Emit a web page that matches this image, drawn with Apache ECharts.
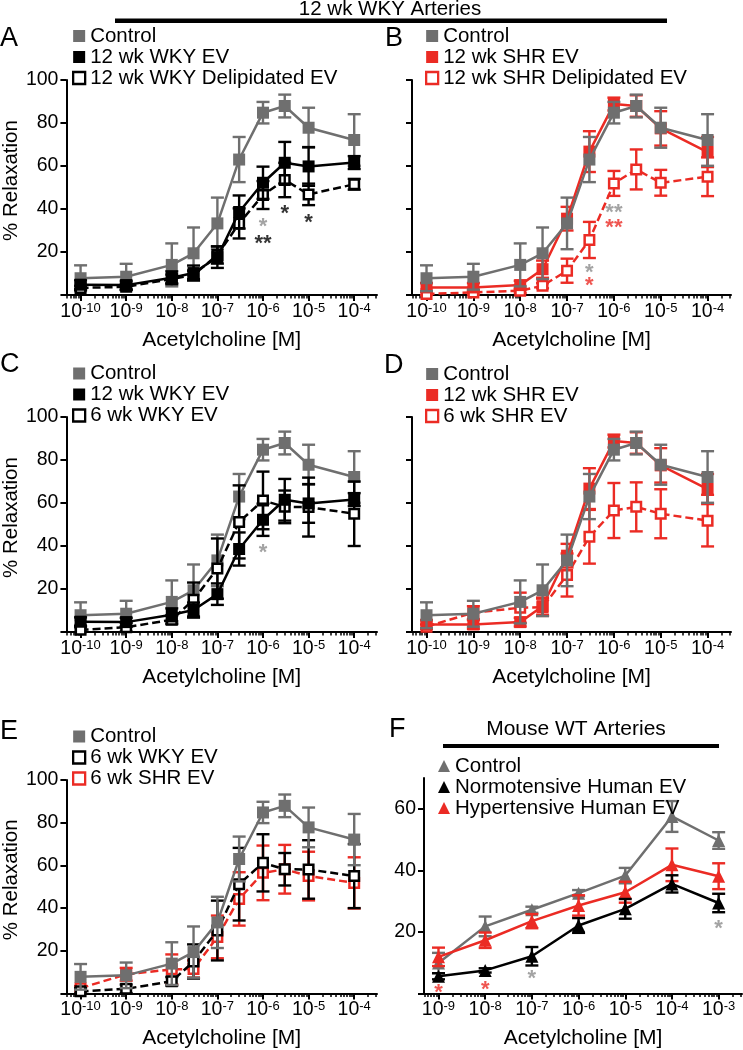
<!DOCTYPE html>
<html><head><meta charset="utf-8">
<script src="https://cdn.jsdelivr.net/npm/echarts@6/dist/echarts.min.js"></script>
<style>html,body{margin:0;padding:0;background:#fff}#c{width:743px;height:1050px}</style>
</head><body><div id="c"></div>
<script>
// ---------------- DATA ----------------
const ratConc   = [1e-10, 1e-9, 1e-8, 3e-8, 1e-7, 3e-7, 1e-6, 3e-6, 1e-5, 1e-4];
const mouseConc = [1e-9, 1e-8, 1e-7, 1e-6, 1e-5, 1e-4, 1e-3];

const control       = [7.8, 8.5, 14, 19.4, 33.3, 63, 84.8, 87.9, 77.8, 72.1];
const controlErr    = [6, 6, 10, 12, 12, 10.5, 5, 5.3, 9.3, 12];
const wky12         = [4.8, 4.6, 8, 10.2, 17.6, 38.6, 52.2, 61.5, 59.8, 61.6];
const wky12Err      = [2, 2, 3, 3.5, 5, 7.7, 7.5, 9.7, 9, 3];
const wky12Delip    = [3.3, 3.8, 7.5, 9.3, 18.6, 33.3, 46.5, 53.5, 46.8, 51.5];
const wky12DelipErr = [1, 1.5, 2, 2, 4, 7, 6.5, 8, 5, 2.5];
const shr12         = [3.5, 3.5, 4.6, 12, 35.5, 66.7, 88.8, 87.9, 77.5, 66.5];
const shr12Err      = [2, 2, 2, 4, 5.5, 9.5, 3, 5, 8, 7];
const shr12Delip    = [0.5, 1.2, 2, 4.3, 11.3, 25.6, 51.9, 58.4, 52.2, 55];
const shr12DelipErr = [1, 1, 1, 1.2, 5.6, 8.4, 5.8, 9.3, 6, 9];
const wky6          = [1, 2.2, 5.7, 15, 29.5, 51.2, 61.2, 58.2, 58.1, 55];
const wky6Err       = [1.5, 2, 2, 8, 14, 17, 13.4, 7.6, 13.7, 15];
const shr6          = [2.5, 9, 11.3, 11.5, 26.5, 44.3, 56.5, 58.2, 55, 51.8];
const shr6Err       = [1, 3, 7, 4, 10, 12.5, 12.8, 11.4, 11.4, 12];

const mControl    = [9.9, 21.8, 27.2, 32.6, 38.3, 57.5, 49.7];
const mControlErr = [3.3, 3.2, 1, 1, 2.5, 5, 2.7];
const mNormo      = [5.6, 7.5, 12.1, 22.1, 27.5, 35.6, 29.4];
const mNormoErr   = [1, 0.7, 3, 2.4, 3.2, 2.8, 3];
const mHyper      = [11.9, 17.3, 23.5, 28.6, 32.9, 41.8, 38.1];
const mHyperErr   = [3, 2.5, 2.3, 3.3, 3.4, 5.3, 4.2];

// significance marks: [concentration, y value, text]
const starsAGray  = [[1e-6, 34, '*']];
const starsABlack = [[1e-6, 26, '**'], [3e-6, 40, '*'], [1e-5, 35.7, '*']];
const starsBGray  = [[1e-6, 40.3, '**'], [3e-7, 12.4, '*']];
const starsBRed   = [[1e-6, 33.6, '**'], [3e-7, 6.5, '*']];
const starsCGray  = [[1e-6, 39, '*']];
const starsFRed   = [[1e-9, 1.8, '*'], [1e-8, 2.9, '*']];
const starsFGray  = [[1e-7, 6.2, '*'], [1e-3, 22.7, '*']];

// tick labels (exponents of 10) and y ticks
const ratTickExps   = [-10, -9, -8, -7, -6, -5, -4];
const mouseTickExps = [-9, -8, -7, -6, -5, -4, -3];
const ratYTicks   = [0, 20, 40, 60, 80, 100];
const ratYLabels  = [20, 40, 60, 80, 100];
const mouseYTicks = [0, 20, 40, 60];
const mouseYLabels= [20, 40, 60];

// ---------------- STYLE / LAYOUT ----------------
const FONT = '"Liberation Sans", Arial, Helvetica, sans-serif';
const GRAY = '#6f6f6f', STAR_GRAY = '#8c8c8c', BLACK = '#000000', RED = '#eb2b24';
const lg = Math.log10;

function minorTicks(min, max) {
  const out = [];
  for (let n = Math.floor(min) - 1; n <= Math.ceil(max); n++) {
    for (let k = 2; k <= 9; k++) {
      const v = n + lg(k);
      if (v >= min && v <= max) out.push(v);
    }
  }
  return out;
}

const panels = [
  { key: 'A', grid: {left: 58, top: 80, width: 319, height: 215}, xMin: -10.31, xMax: -3.5, yMax: 100,
    conc: ratConc, xTicks: ratTickExps, yTicks: ratYTicks, yLabels: ratYLabels, yName: true,
    legend: {left: 72, top: 25.5, gap: 19.4},
    series: [
      {name: 'Control', v: control, e: controlErr, color: GRAY, sym: 'rect', open: false, dash: false, z: 3},
      {name: '12 wk WKY Delipidated EV', v: wky12Delip, e: wky12DelipErr, color: BLACK, sym: 'rect', open: true, dash: true, z: 4},
      {name: '12 wk WKY EV', v: wky12, e: wky12Err, color: BLACK, sym: 'rect', open: false, dash: false, z: 5}
    ],
    legendOrder: [0, 2, 1],
    stars: [{d: starsAGray, color: STAR_GRAY}, {d: starsABlack, color: BLACK}] },
  { key: 'B', grid: {left: 412, top: 80, width: 319, height: 215}, xMin: -10.31, xMax: -3.5, yMax: 100,
    conc: ratConc, xTicks: ratTickExps, yTicks: ratYTicks, yLabels: [], yName: false,
    legend: {left: 425, top: 25.5, gap: 19.4},
    series: [
      {name: '12 wk SHR Delipidated EV', v: shr12Delip, e: shr12DelipErr, color: RED, sym: 'rect', open: true, dash: true, z: 3},
      {name: '12 wk SHR EV', v: shr12, e: shr12Err, color: RED, sym: 'rect', open: false, dash: false, z: 4},
      {name: 'Control', v: control, e: controlErr, color: GRAY, sym: 'rect', open: false, dash: false, z: 5}
    ],
    legendOrder: [2, 1, 0],
    stars: [{d: starsBGray, color: STAR_GRAY}, {d: starsBRed, color: RED}] },
  { key: 'C', grid: {left: 58, top: 417, width: 319, height: 215}, xMin: -10.31, xMax: -3.5, yMax: 100,
    conc: ratConc, xTicks: ratTickExps, yTicks: ratYTicks, yLabels: ratYLabels, yName: true,
    legend: {left: 72, top: 363, gap: 19},
    series: [
      {name: 'Control', v: control, e: controlErr, color: GRAY, sym: 'rect', open: false, dash: false, z: 3},
      {name: '6 wk WKY EV', v: wky6, e: wky6Err, color: BLACK, sym: 'rect', open: true, dash: true, z: 4},
      {name: '12 wk WKY EV', v: wky12, e: wky12Err, color: BLACK, sym: 'rect', open: false, dash: false, z: 5}
    ],
    legendOrder: [0, 2, 1],
    stars: [{d: starsCGray, color: STAR_GRAY}] },
  { key: 'D', grid: {left: 412, top: 417, width: 319, height: 215}, xMin: -10.31, xMax: -3.5, yMax: 100,
    conc: ratConc, xTicks: ratTickExps, yTicks: ratYTicks, yLabels: [], yName: false,
    legend: {left: 425, top: 363.5, gap: 18.6},
    series: [
      {name: '6 wk SHR EV', v: shr6, e: shr6Err, color: RED, sym: 'rect', open: true, dash: true, z: 3},
      {name: '12 wk SHR EV', v: shr12, e: shr12Err, color: RED, sym: 'rect', open: false, dash: false, z: 4},
      {name: 'Control', v: control, e: controlErr, color: GRAY, sym: 'rect', open: false, dash: false, z: 5}
    ],
    legendOrder: [2, 1, 0],
    stars: [] },
  { key: 'E', grid: {left: 58, top: 780, width: 319, height: 215}, xMin: -10.31, xMax: -3.5, yMax: 100,
    conc: ratConc, xTicks: ratTickExps, yTicks: ratYTicks, yLabels: ratYLabels, yName: true,
    legend: {left: 72, top: 726, gap: 18.8},
    series: [
      {name: '6 wk SHR EV', v: shr6, e: shr6Err, color: RED, sym: 'rect', open: true, dash: true, z: 3},
      {name: '6 wk WKY EV', v: wky6, e: wky6Err, color: BLACK, sym: 'rect', open: true, dash: true, z: 4},
      {name: 'Control', v: control, e: controlErr, color: GRAY, sym: 'rect', open: false, dash: false, z: 5}
    ],
    legendOrder: [2, 1, 0],
    stars: [] },
  { key: 'F', grid: {left: 424, top: 778, width: 318, height: 216}, xMin: -9.31, xMax: -2.5, yMax: 70,
    conc: mouseConc, xTicks: mouseTickExps, yTicks: mouseYTicks, yLabels: mouseYLabels, yName: false,
    legend: {left: 438, top: 755.5, gap: 17.4},
    series: [
      {name: 'Control', v: mControl, e: mControlErr, color: GRAY, sym: 'triangle', open: false, dash: false, z: 3},
      {name: 'Hypertensive Human EV', v: mHyper, e: mHyperErr, color: RED, sym: 'triangle', open: false, dash: false, z: 4},
      {name: 'Normotensive Human EV', v: mNormo, e: mNormoErr, color: BLACK, sym: 'triangle', open: false, dash: false, z: 5}
    ],
    legendOrder: [0, 2, 1],
    stars: [{d: starsFRed, color: RED}, {d: starsFGray, color: STAR_GRAY}] }
];

function errRenderer(color) {
  return function (params, api) {
    const x = api.value(0), y = api.value(1), e = api.value(2);
    const top = api.coord([x, y + e]);
    const bot = api.coord([x, Math.max(0, y - e)]);
    const hw = 6.5;
    const st = {stroke: color, lineWidth: 2.4, fill: null};
    return {type: 'group', children: [
      {type: 'line', shape: {x1: top[0], y1: top[1], x2: bot[0], y2: bot[1]}, style: st},
      {type: 'line', shape: {x1: top[0] - hw, y1: top[1], x2: top[0] + hw, y2: top[1]}, style: st},
      {type: 'line', shape: {x1: bot[0] - hw, y1: bot[1], x2: bot[0] + hw, y2: bot[1]}, style: st}
    ]};
  };
}

const option = {animation: false, backgroundColor: '#ffffff', grid: [], xAxis: [], yAxis: [], series: [], legend: [], graphic: []};

panels.forEach((p, pi) => {
  option.grid.push(Object.assign({containLabel: false}, p.grid));
  const xi = option.xAxis.length;
  option.xAxis.push({
    gridIndex: pi, type: 'value', min: p.xMin, max: p.xMax, position: 'bottom',
    axisLine: {show: true, onZero: false, lineStyle: {color: '#000', width: 2}},
    axisTick: {show: true, customValues: p.xTicks, length: 6, lineStyle: {color: '#000', width: 2}},
    axisLabel: {show: true, customValues: p.xTicks, margin: 6.5, color: '#000', fontFamily: FONT, fontSize: 19.5, lineHeight: 20,
      formatter: v => '10{sup|' + Math.round(v) + '}',
      rich: {sup: {fontSize: 13, lineHeight: 12, verticalAlign: 'top', color: '#000', fontFamily: FONT}}},
    splitLine: {show: false},
    name: 'Acetylcholine [M]', nameLocation: 'middle', nameGap: 34.5,
    nameTextStyle: {color: '#000', fontFamily: FONT, fontSize: 21}
  });
  option.xAxis.push({
    gridIndex: pi, type: 'value', min: p.xMin, max: p.xMax, position: 'bottom',
    axisLine: {show: false},
    axisTick: {show: true, customValues: minorTicks(p.xMin, p.xMax), length: 3.5, lineStyle: {color: '#000', width: 1.5}},
    axisLabel: {show: false}, splitLine: {show: false}
  });
  option.yAxis.push({
    gridIndex: pi, type: 'value', min: 0, max: p.yMax, interval: 20,
    axisLine: {show: true, onZero: false, lineStyle: {color: '#000', width: 2}},
    axisTick: {show: true, customValues: p.yTicks, length: 6, lineStyle: {color: '#000', width: 2}},
    axisLabel: {show: p.yLabels.length > 0, customValues: p.yLabels, margin: 8, color: '#000', fontFamily: FONT, fontSize: 19.5},
    splitLine: {show: false},
    name: p.yName ? '% Relaxation' : '', nameLocation: 'middle', nameGap: 37,
    nameTextStyle: {color: '#000', fontFamily: FONT, fontSize: 20.5, padding: [0, 0, 0, 14]}
  });

  p.series.forEach(s => {
    const nm = p.key + '|' + s.name;
    option.series.push({
      type: 'custom', name: nm + '|err', xAxisIndex: xi, yAxisIndex: pi, z: s.z, silent: true,
      encode: {x: 0, y: 1},
      data: p.conc.map((c, i) => [lg(c), s.v[i], s.e[i]]),
      renderItem: errRenderer(s.color)
    });
    const tri = s.sym === 'triangle';
    option.series.push({
      type: 'line', name: nm, xAxisIndex: xi, yAxisIndex: pi, z: s.z, silent: true,
      data: p.conc.map((c, i) => [lg(c), s.v[i]]),
      symbol: s.sym, symbolSize: s.open ? 9.5 : (tri ? 13 : 12), showAllSymbol: true,
      itemStyle: s.open ? {color: '#ffffff', borderColor: s.color, borderWidth: 2.5} : {color: s.color, borderWidth: 0},
      lineStyle: {color: s.color, width: 2.5, type: s.dash ? [8, 4] : 'solid'},
      emphasis: {disabled: true}, clip: false
    });
  });

  p.stars.forEach((st, k) => {
    option.series.push({
      type: 'scatter', name: p.key + '|stars' + k, xAxisIndex: xi, yAxisIndex: pi, z: 10, silent: true,
      data: st.d.map(a => ({value: [lg(a[0]), a[1]], name: a[2]})),
      symbolSize: 1, itemStyle: {color: 'rgba(0,0,0,0)'},
      label: {show: true, position: 'inside', formatter: '{b}', color: st.color, fontFamily: FONT,
        fontSize: 22, fontWeight: 'bold', offset: [0, 5]}
    });
  });

  option.legend.push({
    left: p.legend.left, top: p.legend.top, orient: 'vertical', padding: 0, itemGap: 0,
    itemWidth: 12, itemHeight: 12, selectedMode: false,
    textStyle: {color: '#000', fontFamily: FONT, fontSize: 20.5, lineHeight: p.legend.gap},
    formatter: n => n.split('|')[1],
    data: p.legendOrder.map(i => {
      const s = p.series[i];
      return {name: p.key + '|' + s.name, icon: s.sym,
        itemStyle: s.open ? {color: '#ffffff', borderColor: s.color, borderWidth: 2.3} : {color: s.color, borderWidth: 0}};
    })
  });
});

// panel letters and group titles
const letterPos = [['A', 0, 39], ['B', 385, 39], ['C', 0, 365], ['D', 384, 366], ['E', 0, 732], ['F', 389, 730]];
letterPos.forEach(l => option.graphic.push({type: 'text', x: l[1], y: l[2], z: 20, silent: true,
  style: {text: l[0], font: '27px ' + FONT, fill: '#000', align: 'left', verticalAlign: 'middle'}}));
option.graphic.push({type: 'text', x: 390, y: 9, silent: true,
  style: {text: '12 wk WKY Arteries', font: '20.5px ' + FONT, fill: '#000', align: 'center', verticalAlign: 'middle'}});
option.graphic.push({type: 'rect', silent: true, shape: {x: 115, y: 18.5, width: 552, height: 4.5}, style: {fill: '#000'}});
option.graphic.push({type: 'text', x: 576, y: 729, silent: true,
  style: {text: 'Mouse WT Arteries', font: '21px ' + FONT, fill: '#000', align: 'center', verticalAlign: 'middle'}});
option.graphic.push({type: 'rect', silent: true, shape: {x: 443, y: 744, width: 276, height: 4}, style: {fill: '#000'}});

const chart = echarts.init(document.getElementById('c'), null, {renderer: 'canvas', width: 743, height: 1050});
chart.setOption(option);
</script>
</body></html>
